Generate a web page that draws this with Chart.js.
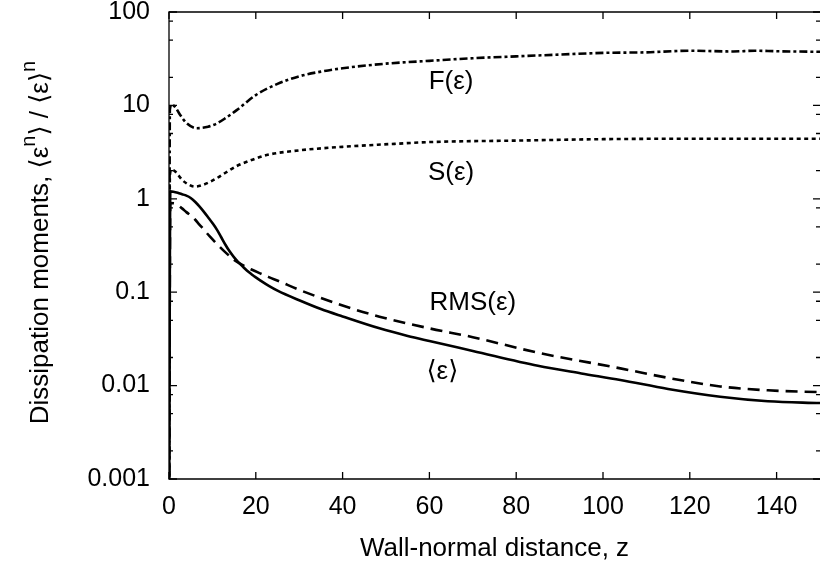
<!DOCTYPE html>
<html><head><meta charset="utf-8">
<script src="https://cdn.jsdelivr.net/npm/chart.js@4.4.1/dist/chart.umd.min.js"></script>
<style>html,body{margin:0;padding:0;background:#fff}</style>
</head><body>
<canvas id="c" width="820" height="571"></canvas>
<script>
const FONT = "'Liberation Sans', Arial, 'DejaVu Sans', sans-serif";

// Tick positions / labels
const xTicks = [0, 20, 40, 60, 80, 100, 120, 140];
const yTicks = [0.001, 0.01, 0.1, 1, 10, 100];
const yTickLabels = ['0.001', '0.01', '0.1', '1', '10', '100'];
const yMinorFactors = [2, 5, 8];

// Axis titles (y title has superscript parts)
const xTitle = 'Wall-normal distance, z';
const yTitleParts = [['Dissipation moments, ⟨ε', false], ['n', true], ['⟩ / ⟨ε⟩', false], ['n', true]];

// <eps> (solid)
const zMean   = [0, 0.3, 1, 2, 3, 4, 5, 6, 7, 8, 9, 10, 11, 12, 13, 14, 15, 16, 17, 18, 19, 20, 21, 23, 25, 30, 35, 40, 48.5, 55, 60, 70, 85, 95, 104, 115, 127, 138, 150];
const meanVal = [0.0001, 1.2, 1.19, 1.16, 1.12, 1.08, 1.02, 0.93, 0.83, 0.73, 0.635, 0.55, 0.47, 0.39, 0.322, 0.272, 0.236, 0.209, 0.188, 0.17, 0.156, 0.144, 0.134, 0.117, 0.104, 0.082, 0.066, 0.055, 0.041, 0.034, 0.030, 0.0235, 0.0163, 0.0135, 0.0115, 0.0092, 0.0076, 0.0068, 0.0065];

// RMS(eps) (dashed)
const zRms   = [0, 0.3, 1.3, 3, 4, 5, 6, 7, 8, 9.4, 11, 13.2, 15, 17, 19, 21, 23, 25.5, 30, 40, 48.5, 60, 70, 85, 104, 115, 127, 138, 150];
const rmsVal = [0.0001, 0.9, 0.895, 0.79, 0.72, 0.665, 0.6, 0.53, 0.47, 0.395, 0.33, 0.262, 0.222, 0.195, 0.175, 0.159, 0.145, 0.13, 0.106, 0.072, 0.0547, 0.041, 0.033, 0.0225, 0.0153, 0.0121, 0.0098, 0.0089, 0.0085];

// S(eps) (dotted)
const zS   = [0, 0.2, 0.6, 1.5, 3, 4.5, 6, 8, 11, 13, 15.6, 19, 22.5, 30, 40, 53, 60, 80, 100, 120, 150];
const sVal = [0.0001, 1.8, 2.05, 1.95, 1.6, 1.42, 1.35, 1.42, 1.66, 1.9, 2.24, 2.6, 2.94, 3.3, 3.6, 3.9, 4.05, 4.2, 4.35, 4.4, 4.4];

// F(eps) (dash-dot)
const zF   = [0, 0.2, 0.6, 1.5, 2.5, 4, 6.4, 9, 11, 13, 15.6, 20, 25, 30, 35, 40, 50, 60, 70, 80, 90, 100, 110, 120, 130, 135, 140, 150];
const fVal = [0.0001, 9, 10.2, 9.5, 8, 6.5, 5.7, 5.9, 6.4, 7.3, 8.9, 12.9, 17, 20.5, 23, 25, 28, 30, 32, 33.5, 35, 36.5, 37, 38.5, 37.8, 38.5, 38, 37.5];

// In-plot annotations (data coordinates)
const labelTexts = ['F(ε)', 'S(ε)', 'RMS(ε)', '⟨ε⟩'];
const labelZ     = [65, 65, 70, 63];
const labelV     = [17.9, 1.89, 0.0766, 0.0141];

const toXY = (zs, vs) => zs.map((z, i) => ({x: z, y: vs[i]}));

const framePlugin = {
  id: 'frame',
  afterDatasetsDraw(chart) {
    const {ctx, chartArea: {left, right, top, bottom}, scales: {x, y}} = chart;
    ctx.save();
    ctx.strokeStyle = '#000';
    ctx.lineWidth = 1.3;
    ctx.beginPath();
    ctx.moveTo(right + 2, top); ctx.lineTo(left, top); ctx.lineTo(left, bottom); ctx.lineTo(right + 2, bottom);
    ctx.stroke();
    ctx.beginPath();
    xTicks.forEach(v => {
      const px = x.getPixelForValue(v);
      ctx.moveTo(px, bottom); ctx.lineTo(px, bottom - 7);
      ctx.moveTo(px, top); ctx.lineTo(px, top + 7);
    });
    yTicks.forEach(v => {
      const py = y.getPixelForValue(v);
      ctx.moveTo(left, py); ctx.lineTo(left + 8, py);
      ctx.moveTo(right, py); ctx.lineTo(right - 7, py);
    });
    yTicks.slice(0, -1).forEach(d => {
      yMinorFactors.forEach(f => {
        const py = y.getPixelForValue(d * f);
        ctx.moveTo(left, py); ctx.lineTo(left + 4, py);
        ctx.moveTo(right, py); ctx.lineTo(right - 4, py);
      });
    });
    ctx.stroke();
    ctx.fillStyle = '#000';
    ctx.font = '26px ' + FONT;
    ctx.textAlign = 'center';
    ctx.textBaseline = 'middle';
    labelTexts.forEach((t, i) => {
      ctx.fillText(t, x.getPixelForValue(labelZ[i]), y.getPixelForValue(labelV[i]));
    });
    // y axis title with superscripts, rotated
    const mainF = '26px ' + FONT, supF = '20px ' + FONT;
    let total = 0;
    yTitleParts.forEach(([t, sup]) => { ctx.font = sup ? supF : mainF; total += ctx.measureText(t).width; });
    ctx.save();
    ctx.translate(48, (top + bottom) / 2 - 3);
    ctx.rotate(-Math.PI / 2);
    ctx.textAlign = 'left';
    ctx.textBaseline = 'alphabetic';
    let cx = -total / 2;
    yTitleParts.forEach(([t, sup]) => {
      ctx.font = sup ? supF : mainF;
      ctx.fillText(t, cx, sup ? -13 : 0);
      cx += ctx.measureText(t).width;
    });
    ctx.restore();
    ctx.restore();
  }
};

const common = {borderColor: '#000', borderWidth: 2.6, pointRadius: 0, fill: false, cubicInterpolationMode: 'monotone'};

new Chart(document.getElementById('c'), {
  type: 'line',
  data: {
    datasets: [
      Object.assign({label: 'F', data: toXY(zF, fVal), borderDash: [8, 3, 3, 3]}, common),
      Object.assign({label: 'S', data: toXY(zS, sVal), borderDash: [4, 3.5]}, common),
      Object.assign({label: 'RMS', data: toXY(zRms, rmsVal), borderDash: [12, 7]}, common),
      Object.assign({label: 'mean', data: toXY(zMean, meanVal)}, common)
    ]
  },
  options: {
    responsive: false,
    animation: false,
    devicePixelRatio: 1,
    layout: {padding: {top: 12, right: 0, bottom: 0, left: 0}},
    plugins: {legend: {display: false}, tooltip: {enabled: false}},
    scales: {
      x: {
        type: 'linear', min: 0, max: 150,
        grid: {display: false, drawTicks: false},
        border: {display: false},
        afterBuildTicks: s => { s.ticks = xTicks.map(v => ({value: v})); },
        afterFit: s => { s.height = 92; s.paddingLeft = 0; s.paddingRight = 0; },
        ticks: {color: '#000', font: {family: FONT, size: 25}, padding: 13, maxRotation: 0, autoSkip: false},
        title: {display: true, text: xTitle, color: '#000', font: {family: FONT, size: 26}, padding: {top: 0, bottom: 7}}
      },
      y: {
        type: 'logarithmic', min: 0.001, max: 100,
        grid: {display: false, drawTicks: false},
        border: {display: false},
        afterBuildTicks: s => { s.ticks = yTicks.map(v => ({value: v})); },
        afterFit: s => { s.width = 169; s.paddingTop = 0; s.paddingBottom = 0; },
        ticks: {color: '#000', font: {family: FONT, size: 25}, padding: 19, autoSkip: false,
          callback: (v, i) => yTickLabels[i]},
        title: {display: false}
      }
    }
  },
  plugins: [framePlugin]
});
</script>
</body></html>
